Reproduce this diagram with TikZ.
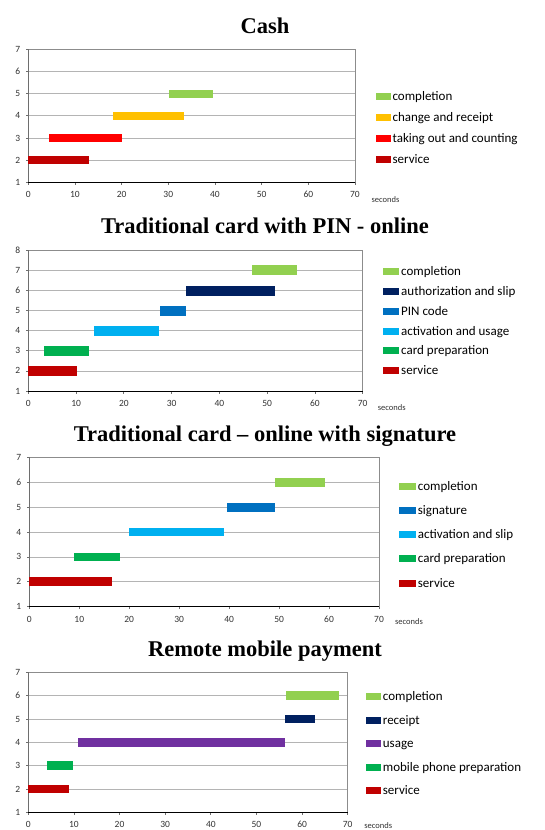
\documentclass[tikz,border=0pt]{standalone}
\usepackage{fontspec}
\setmainfont{Liberation Serif}
\newfontfamily\chartsans{Carlito}

% series colours
\definecolor{cCompletion}{HTML}{92D050}
\definecolor{cChange}{HTML}{FFC000}
\definecolor{cTaking}{HTML}{FF0000}
\definecolor{cService}{HTML}{C00000}
\definecolor{cAuth}{HTML}{002060}
\definecolor{cPin}{HTML}{0070C0}
\definecolor{cActivation}{HTML}{00B0F0}
\definecolor{cCard}{HTML}{00B050}
\definecolor{cUsage}{HTML}{7030A0}
% chart furniture
\definecolor{gridgray}{HTML}{B4B4B4}
\definecolor{framegray}{HTML}{8C8C8C}
\definecolor{axisgray}{HTML}{6E6E6E}

\tikzset{
  gridline/.style={draw=gridgray, line width=0.7pt},
  frameline/.style={draw=framegray, line width=0.8pt},
  yaxisline/.style={draw=axisgray, line width=0.8pt},
  xaxisline/.style={draw=black, line width=1pt},
  charttitle/.style={font=\fontsize{22.5}{27}\selectfont\bfseries, anchor=base, inner sep=0pt},
  ticklab/.style={font=\chartsans\fontsize{9.5}{11}\selectfont, text=black!80, inner sep=0pt},
  unitlab/.style={font=\chartsans\fontsize{8.5}{10}\selectfont, text=black!80, inner sep=0pt},
  legtext/.style={font=\chartsans\fontsize{13}{15}\selectfont, anchor=base west, inner sep=0pt},
}

% one Gantt bar: colour, level, start, end (in axis units)
\newcommand\ganttbar[4]{%
  \fill[#1] ([yshift=-\barhalf]#3,{#2-1}) rectangle ([yshift=\barhalf]#4,{#2-1});}
% one legend entry: node name, colour, marker left, marker right, centre y, text
\newcommand\legentry[6]{%
  \fill[#2] (#3,#5-3.5) rectangle (#4,#5+3.5);
  \node[legtext] (#1) at (#4+1.7,#5+4) {#6};}
% axes, grid and tick labels of one chart (inside its scope): prefix, top level index
\newcommand\chartframe[2]{%
  \foreach \k in {1,...,#2} \draw[gridline] (0,\k) -- (70,\k);
  \draw[frameline] (0,#2) -- (70,#2);
  \draw[frameline] (70,0) -- (70,#2);
  \draw[yaxisline] (0,0) -- (0,#2);
  \foreach \k in {0,...,#2} \draw[yaxisline] (0,\k) -- ++(-2.5pt,0);
  \foreach \v in {0,10,...,70} \draw[yaxisline] (\v,0) -- ++(0,-2.5pt);
  \draw[xaxisline] (0,0) -- (70,0);
  \foreach \k [count=\c] in {0,...,#2}
    \node[ticklab, anchor=east] (#1y\c) at ([xshift=-8pt]0,\k) {\c};
  \foreach \v in {0,10,...,70}
    \node[ticklab] (#1x\v) at ([yshift=-12.5pt]\v,0) {\v};}

\begin{document}
\begin{tikzpicture}[x=1pt,y=-1pt]
\useasboundingbox[fill=white] (0,0) rectangle (544,830);

% ---------------- Cash ----------------
\node[charttitle] (t1) at (265,33.2) {Cash};
\begin{scope}[shift={(28.3,182.3)}, x=4.667pt, y=22.17pt]
  \def\barhalf{4pt}
  \chartframe{a}{6}
  \ganttbar{cService}{2}{0}{12.9}
  \ganttbar{cTaking}{3}{4.4}{20.0}
  \ganttbar{cChange}{4}{18.2}{33.4}
  \ganttbar{cCompletion}{5}{30.1}{39.6}
\end{scope}
\node[unitlab] (u1) at (385.5,200) {seconds};
\legentry{l1a}{cCompletion}{376}{390.7}{96.7}{completion}
\legentry{l1b}{cChange}{376}{390.7}{117.7}{change and receipt}
\legentry{l1c}{cTaking}{376}{390.7}{138.3}{taking out and counting}
\legentry{l1d}{cService}{376}{390.7}{159.3}{service}

% ---------------- Traditional card with PIN ----------------
\node[charttitle] (t2) at (265,233.2) {Traditional card with PIN - online};
\begin{scope}[shift={(28.3,391)}, x=4.777pt, y=20.1pt]
  \def\barhalf{5pt}
  \chartframe{b}{7}
  \ganttbar{cService}{2}{0}{10.1}
  \ganttbar{cCard}{3}{3.35}{12.8}
  \ganttbar{cActivation}{4}{13.75}{27.4}
  \ganttbar{cPin}{5}{27.6}{33.0}
  \ganttbar{cAuth}{6}{33.0}{51.6}
  \ganttbar{cCompletion}{7}{46.8}{56.2}
\end{scope}
\node[unitlab] (u2) at (391.7,407.5) {seconds};
\legentry{l2a}{cCompletion}{383.3}{399.3}{271.7}{completion}
\legentry{l2b}{cAuth}{383.3}{399.3}{291}{authorization and slip}
\legentry{l2c}{cPin}{383.3}{399.3}{311}{PIN code}
\legentry{l2d}{cActivation}{383.3}{399.3}{331}{activation and usage}
\legentry{l2e}{cCard}{383.3}{399.3}{350.7}{card preparation}
\legentry{l2f}{cService}{383.3}{399.3}{370.7}{service}

% ---------------- Traditional card with signature ----------------
\node[charttitle] (t3) at (265,441.7) {Traditional card -- online with signature};
\begin{scope}[shift={(29.3,606.7)}, x=4.996pt, y=24.9pt]
  \def\barhalf{4.4pt}
  \chartframe{c}{6}
  \ganttbar{cService}{2}{0}{16.6}
  \ganttbar{cCard}{3}{8.95}{18.15}
  \ganttbar{cActivation}{4}{19.9}{38.95}
  \ganttbar{cPin}{5}{39.5}{49.1}
  \ganttbar{cCompletion}{6}{49.1}{59.1}
\end{scope}
\node[unitlab] (u3) at (409,621.7) {seconds};
\legentry{l3a}{cCompletion}{399.3}{416}{486}{completion}
\legentry{l3b}{cPin}{399.3}{416}{510.7}{signature}
\legentry{l3c}{cActivation}{399.3}{416}{534.3}{activation and slip}
\legentry{l3d}{cCard}{399.3}{416}{558.7}{card preparation}
\legentry{l3e}{cService}{399.3}{416}{583.3}{service}

% ---------------- Remote mobile payment ----------------
\node[charttitle] (t4) at (265,656.5) {Remote mobile payment};
\begin{scope}[shift={(28.3,812.3)}, x=4.563pt, y=23.33pt]
  \def\barhalf{4.2pt}
  \chartframe{d}{6}
  \ganttbar{cService}{2}{0}{9.0}
  \ganttbar{cCard}{3}{4.1}{9.8}
  \ganttbar{cUsage}{4}{10.8}{56.3}
  \ganttbar{cAuth}{5}{56.3}{62.8}
  \ganttbar{cCompletion}{6}{56.5}{68.1}
\end{scope}
\node[unitlab] (u4) at (378.3,826) {seconds};
\legentry{l4a}{cCompletion}{366}{381}{696}{completion}
\legentry{l4b}{cAuth}{366}{381}{720}{receipt}
\legentry{l4c}{cUsage}{366}{381}{743.7}{usage}
\legentry{l4d}{cCard}{366}{381}{767}{mobile phone preparation}
\legentry{l4e}{cService}{366}{381}{790.7}{service}
\end{tikzpicture}
\end{document}
